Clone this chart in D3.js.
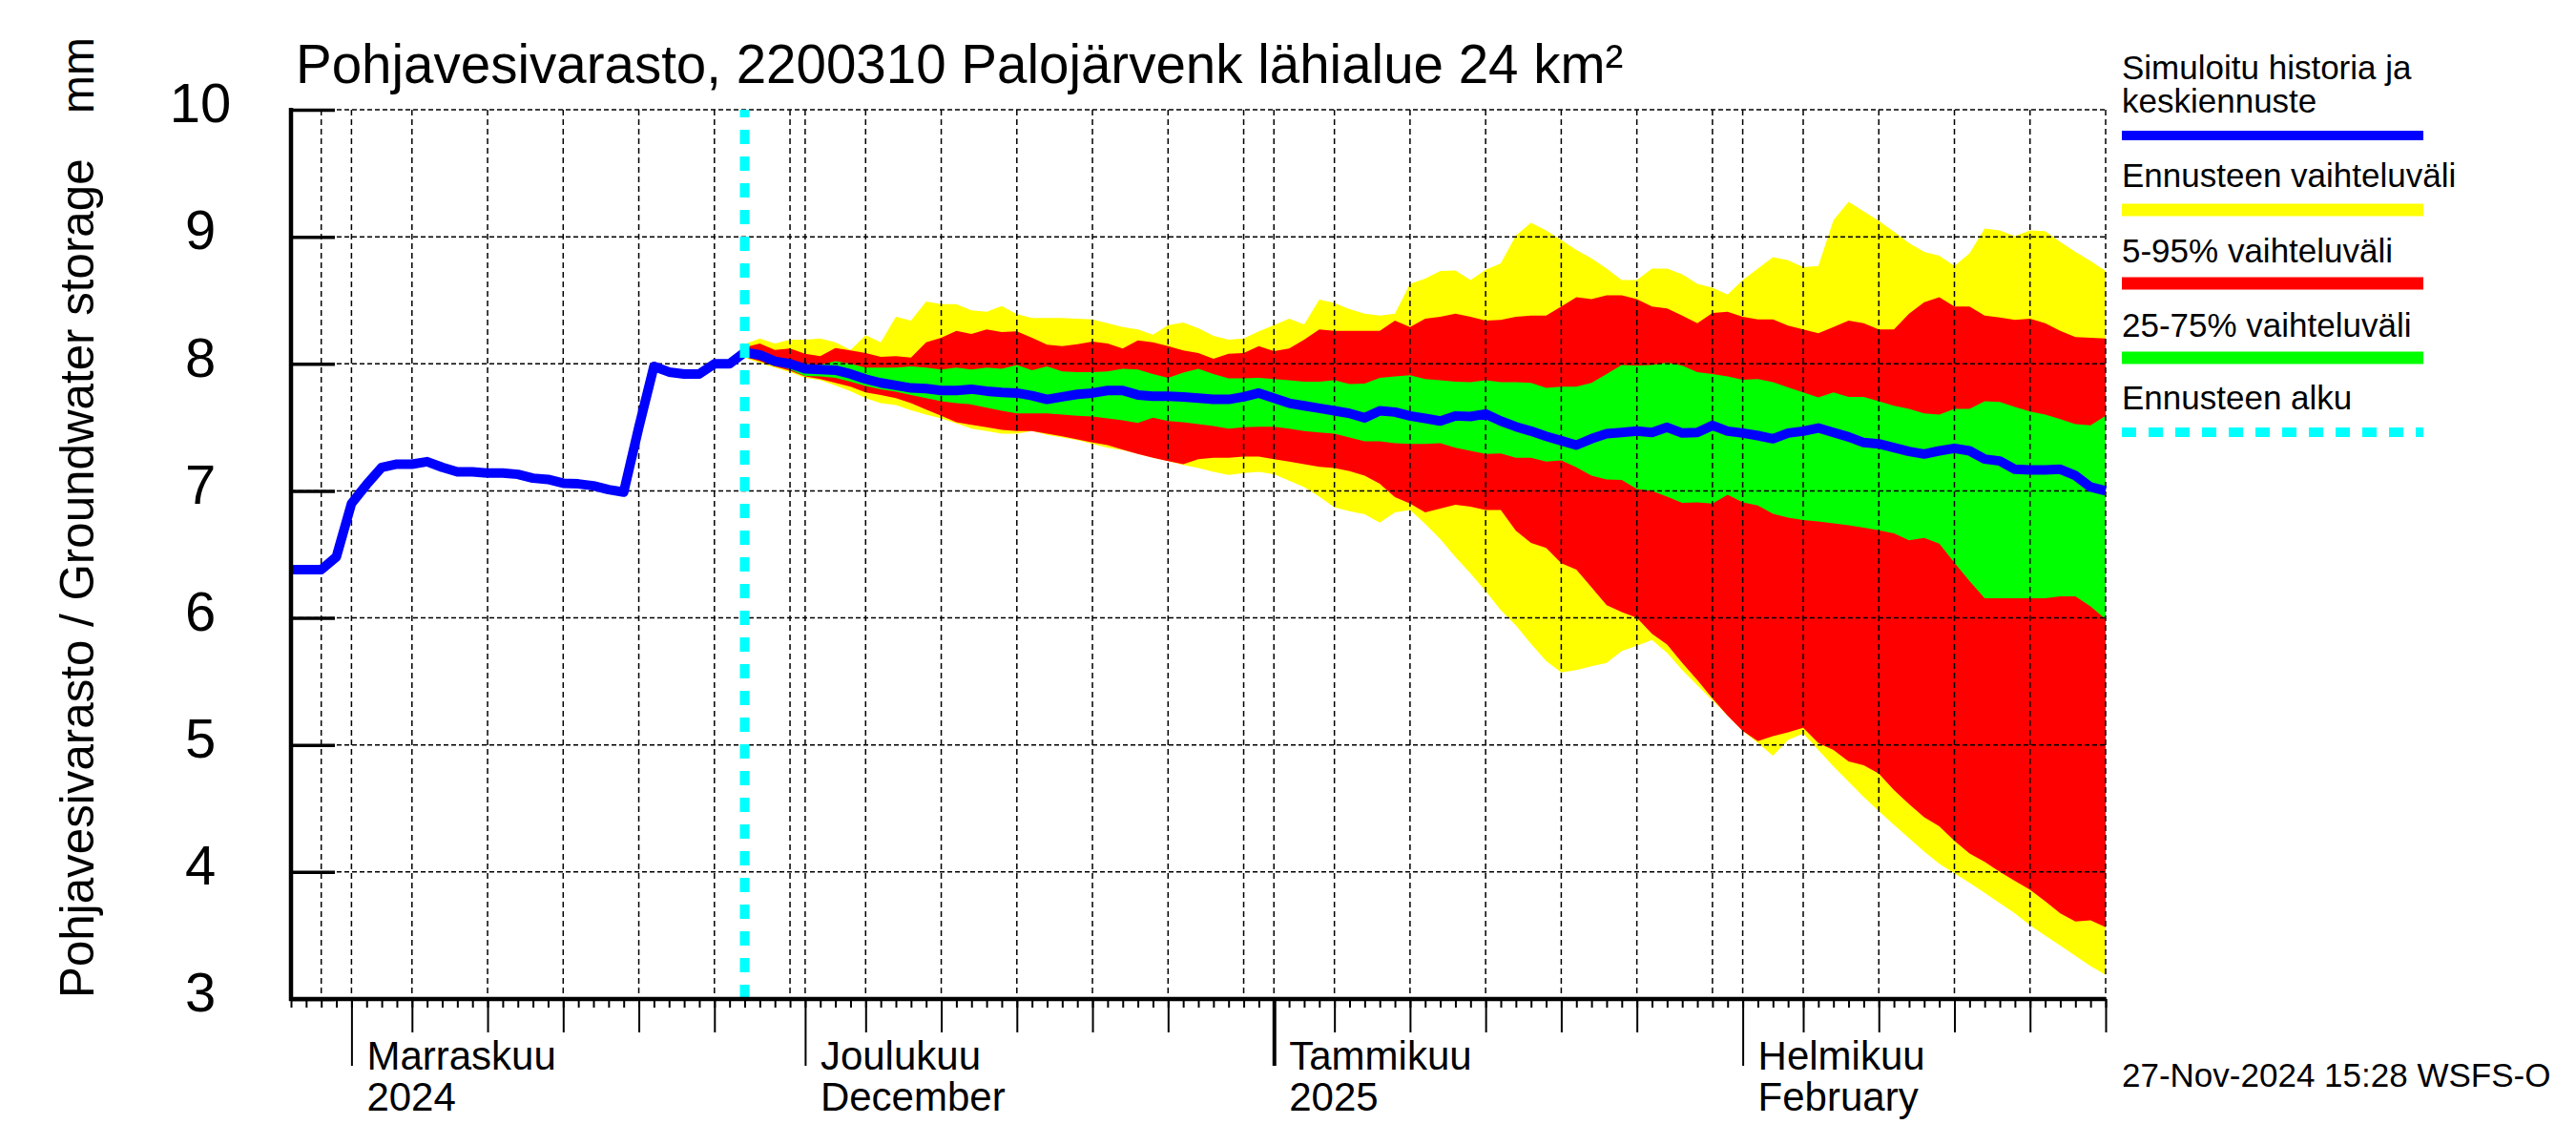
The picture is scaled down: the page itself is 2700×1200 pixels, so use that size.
<!DOCTYPE html>
<html>
<head>
<meta charset="utf-8">
<script src="https://cdn.jsdelivr.net/npm/d3@7"></script>
<style>
  body { margin: 0; background: #fff; }
  text { font-family: "Liberation Sans", Arial, Helvetica, sans-serif; fill: #000; }
</style>
</head>
<body>
<svg id="chart" width="2700" height="1200"></svg>
<script>
// time frame
const startDate = new Date(Date.UTC(2024, 9, 28));
const endDate = new Date(Date.UTC(2025, 1, 25));
const forecastStart = new Date(Date.UTC(2024, 10, 27));

// simulated history, daily from 28 Oct
const history = [
  6.38, 6.38, 6.38, 6.48, 6.90, 7.05, 7.185, 7.21, 7.21, 7.23,
  7.185, 7.15, 7.15, 7.14, 7.14, 7.13, 7.10, 7.09, 7.06, 7.055,
  7.04, 7.01, 6.99, 7.50, 7.98, 7.935, 7.92, 7.92, 8.00, 8.00,
  8.09
];

// forecast, daily from 27 Nov
const median = [
  8.09, 8.07, 8.02, 8.0, 7.96, 7.955, 7.95, 7.92, 7.88, 7.85,
  7.83, 7.81, 7.805, 7.79, 7.79, 7.80, 7.785, 7.775, 7.77, 7.75,
  7.72, 7.74, 7.76, 7.77, 7.79, 7.79, 7.755, 7.745, 7.745, 7.74,
  7.73, 7.72, 7.72, 7.74, 7.77, 7.73, 7.69, 7.67, 7.65, 7.63,
  7.61, 7.575, 7.63, 7.62, 7.59, 7.57, 7.55, 7.59, 7.585, 7.605,
  7.55, 7.505, 7.47, 7.43, 7.395, 7.36, 7.41, 7.45, 7.46, 7.47,
  7.46, 7.5, 7.455, 7.46, 7.515, 7.47, 7.455, 7.435, 7.41, 7.455,
  7.47, 7.495, 7.46, 7.425, 7.38, 7.37, 7.34, 7.31, 7.29, 7.315,
  7.335, 7.315, 7.25, 7.235, 7.17, 7.165, 7.165, 7.17, 7.12, 7.03,
  7.0
];
const rangeMax = [
  8.155, 8.2, 8.16, 8.19, 8.19, 8.2, 8.17, 8.11, 8.225, 8.17,
  8.37, 8.34, 8.49, 8.47, 8.47, 8.42, 8.41, 8.455, 8.39, 8.36,
  8.36, 8.36, 8.355, 8.35, 8.32, 8.29, 8.27, 8.23, 8.305, 8.325,
  8.28, 8.22, 8.19, 8.2, 8.255, 8.305, 8.355, 8.31, 8.505, 8.48,
  8.43, 8.395, 8.38, 8.395, 8.63, 8.67, 8.73, 8.735, 8.66, 8.74,
  8.79, 9.01, 9.11, 9.05, 8.975, 8.895, 8.83, 8.75, 8.66, 8.66,
  8.75, 8.75, 8.705, 8.63, 8.6, 8.545, 8.66, 8.75, 8.84, 8.815,
  8.76, 8.77, 9.13, 9.275, 9.2, 9.125, 9.04, 8.95, 8.88, 8.85,
  8.77, 8.87, 9.065, 9.05, 9.005, 9.05, 9.045, 8.96, 8.88, 8.81,
  8.73
];
const p95 = [
  8.13, 8.16, 8.11, 8.12, 8.08, 8.06, 8.125, 8.105, 8.085, 8.055,
  8.06, 8.05, 8.17, 8.205, 8.26, 8.235, 8.27, 8.25, 8.255, 8.205,
  8.15, 8.14, 8.155, 8.175, 8.16, 8.12, 8.185, 8.17, 8.14, 8.105,
  8.085, 8.04, 8.08, 8.085, 8.14, 8.1, 8.12, 8.19, 8.27, 8.26,
  8.26, 8.26, 8.26, 8.34, 8.29, 8.355, 8.37, 8.395, 8.37, 8.34,
  8.345, 8.37, 8.38, 8.38, 8.45, 8.525, 8.51, 8.54, 8.54, 8.51,
  8.45, 8.435, 8.38, 8.32, 8.4, 8.41, 8.37, 8.35, 8.35, 8.30,
  8.27, 8.24, 8.29, 8.34, 8.32, 8.27, 8.27, 8.395, 8.485, 8.525,
  8.45, 8.45, 8.38, 8.365, 8.345, 8.355, 8.32, 8.26, 8.21, 8.205,
  8.2
];
const p75 = [
  8.10, 8.08, 8.04, 8.01, 8.0, 7.99, 8.02, 8.0, 7.97, 7.97,
  7.97, 7.98, 7.97, 7.955, 7.97, 7.955, 7.97, 7.96, 7.99, 7.95,
  7.98, 7.94, 7.935, 7.935, 7.94, 7.96, 7.955, 7.92, 7.89, 7.93,
  7.96, 7.92, 7.885, 7.885, 7.89, 7.88, 7.87, 7.86, 7.86, 7.87,
  7.84, 7.845, 7.89, 7.9, 7.91, 7.88, 7.87, 7.86, 7.855, 7.87,
  7.855, 7.855, 7.85, 7.81, 7.82, 7.82, 7.85, 7.92, 7.99, 7.985,
  7.99, 8.01, 7.985, 7.935, 7.92, 7.9, 7.875, 7.88, 7.855, 7.815,
  7.775, 7.735, 7.775, 7.74, 7.74, 7.705, 7.67, 7.645, 7.61, 7.6,
  7.645, 7.645, 7.705, 7.7, 7.66, 7.625, 7.6, 7.565, 7.525, 7.515,
  7.59
];
const p25 = [
  8.08, 8.04, 8.0, 7.955, 7.905, 7.9, 7.89, 7.86, 7.825, 7.80,
  7.78, 7.755, 7.73, 7.705, 7.69, 7.68, 7.655, 7.63, 7.61, 7.61,
  7.61, 7.60, 7.59, 7.585, 7.57, 7.555, 7.535, 7.575, 7.55, 7.54,
  7.525, 7.51, 7.49, 7.5, 7.505, 7.505, 7.49, 7.47, 7.46, 7.45,
  7.42, 7.39, 7.39, 7.375, 7.37, 7.37, 7.375, 7.34, 7.315, 7.29,
  7.295, 7.26, 7.26, 7.23, 7.24, 7.185, 7.12, 7.09, 7.085, 7.015,
  7.0, 6.955, 6.905, 6.91, 6.9, 6.97, 6.91, 6.885, 6.82, 6.79,
  6.77, 6.76, 6.745, 6.73, 6.71, 6.69, 6.665, 6.61, 6.63, 6.585,
  6.435, 6.29, 6.155, 6.155, 6.155, 6.155, 6.155, 6.17, 6.17, 6.09,
  5.99
];
const p05 = [
  8.055, 8.02, 7.98, 7.945, 7.9, 7.88, 7.85, 7.82, 7.775, 7.755,
  7.73, 7.69, 7.64, 7.59, 7.54, 7.52, 7.50, 7.48, 7.47, 7.47,
  7.45, 7.43, 7.405, 7.38, 7.36, 7.325, 7.29, 7.26, 7.235, 7.21,
  7.25, 7.26, 7.26, 7.27, 7.27, 7.25, 7.23, 7.21, 7.19, 7.18,
  7.155, 7.12, 7.055, 6.95, 6.9, 6.83, 6.86, 6.89, 6.875, 6.85,
  6.85, 6.685, 6.59, 6.55, 6.43, 6.38, 6.24, 6.1, 6.045, 6.0,
  5.875, 5.79, 5.645, 5.51, 5.365, 5.23, 5.11, 5.03, 5.07, 5.10,
  5.135, 5.015, 4.96, 4.87, 4.84, 4.775, 4.645, 4.535, 4.43, 4.36,
  4.245, 4.145, 4.08, 4.0, 3.93, 3.86, 3.77, 3.675, 3.61, 3.62,
  3.565
];
const rangeMin = [
  8.05, 8.005, 7.97, 7.935, 7.89, 7.87, 7.83, 7.785, 7.73, 7.69,
  7.675, 7.635, 7.60, 7.57, 7.53, 7.49, 7.47, 7.45, 7.45, 7.47,
  7.44, 7.42, 7.40, 7.37, 7.34, 7.32, 7.29, 7.26, 7.235, 7.205,
  7.18, 7.15, 7.125, 7.14, 7.15, 7.13, 7.08, 7.03, 6.955, 6.87,
  6.84, 6.815, 6.75, 6.83, 6.85, 6.74, 6.62, 6.48, 6.35, 6.21,
  6.06, 5.94, 5.795, 5.66, 5.57, 5.59, 5.62, 5.645, 5.74, 5.78,
  5.825, 5.725, 5.59, 5.47, 5.35, 5.23, 5.11, 5.015, 4.915, 5.04,
  5.09, 4.96, 4.83, 4.71, 4.59, 4.48, 4.37, 4.265, 4.16, 4.065,
  3.99, 3.915, 3.835, 3.755, 3.675, 3.58, 3.5, 3.42, 3.34, 3.26,
  3.19
];

const yTicks = [3, 4, 5, 6, 7, 8, 9, 10];
const monthLabels = [
  { date: new Date(Date.UTC(2024, 10, 1)), top: "Marraskuu", bottom: "2024" },
  { date: new Date(Date.UTC(2024, 11, 1)), top: "Joulukuu", bottom: "December" },
  { date: new Date(Date.UTC(2025, 0, 1)), top: "Tammikuu", bottom: "2025" },
  { date: new Date(Date.UTC(2025, 1, 1)), top: "Helmikuu", bottom: "February" }
];
const legendItems = [
  { lines: ["Simuloitu historia ja", "keskiennuste"], color: "#0000ff", width: 10 },
  { lines: ["Ennusteen vaihteluväli"], color: "#ffff00", width: 13 },
  { lines: ["5-95% vaihteluväli"], color: "#ff0000", width: 13 },
  { lines: ["25-75% vaihteluväli"], color: "#00ff00", width: 13 },
  { lines: ["Ennusteen alku"], color: "#00ffff", width: 10, dash: "15,13" }
];
const titleText = "Pohjavesivarasto, 2200310 Palojärvenk lähialue 24 km²";
const yLabel = "Pohjavesivarasto / Groundwater storage";
const stamp = "27-Nov-2024 15:28 WSFS-O";

const svg = d3.select("#chart");
const x = d3.scaleUtc().domain([startDate, endDate]).range([305, 2207]);
const y = d3.scaleLinear().domain([3, 10]).range([1047, 115]);

const histDates = history.map((d, i) => d3.utcDay.offset(startDate, i));
const fcDates = median.map((d, i) => d3.utcDay.offset(forecastStart, i));

// forecast bands
function band(lo, hi, color) {
  const area = d3.area()
    .x((d, i) => x(fcDates[i]))
    .y0((d, i) => y(lo[i]))
    .y1((d, i) => y(hi[i]));
  svg.append("path").datum(lo).attr("d", area).attr("fill", color);
}
band(rangeMin, rangeMax, "#ffff00");
band(p05, p95, "#ff0000");
band(p25, p75, "#00ff00");

// grid
const allDays = d3.utcDay.range(startDate, d3.utcDay.offset(endDate, 1));
const gridDays = allDays.filter(d => [1, 5, 10, 15, 20, 25, 30].includes(d.getUTCDate()));
svg.append("g").selectAll("line").data(gridDays).join("line")
  .attr("x1", d => x(d)).attr("x2", d => x(d))
  .attr("y1", y(10)).attr("y2", y(3))
  .attr("stroke", "#000").attr("stroke-width", 1.5).attr("stroke-dasharray", "6,4");
svg.append("g").selectAll("line").data(yTicks.filter(v => v > 3)).join("line")
  .attr("x1", x(startDate)).attr("x2", x(endDate))
  .attr("y1", d => y(d)).attr("y2", d => y(d))
  .attr("stroke", "#000").attr("stroke-width", 1.5).attr("stroke-dasharray", "5,3");

// lines
const line = d3.line().x(d => x(d[0])).y(d => y(d[1]));
svg.append("path").datum(histDates.map((d, i) => [d, history[i]]))
  .attr("d", line).attr("fill", "none").attr("stroke", "#0000ff")
  .attr("stroke-width", 10).attr("stroke-linejoin", "round");
svg.append("path").datum(fcDates.map((d, i) => [d, median[i]]))
  .attr("d", line).attr("fill", "none").attr("stroke", "#0000ff")
  .attr("stroke-width", 10).attr("stroke-linejoin", "round");

// forecast start
svg.append("line")
  .attr("x1", x(forecastStart)).attr("x2", x(forecastStart))
  .attr("y1", y(3)).attr("y2", y(10))
  .attr("stroke", "#00ffff").attr("stroke-width", 10).attr("stroke-dasharray", "15,13");

// bottom ticks
function tickRow(values, size, width) {
  svg.append("g")
    .attr("transform", `translate(0,${y(3)})`)
    .call(d3.axisBottom(x).tickValues(values).tickSize(size).tickFormat(""))
    .call(g => g.select(".domain").remove())
    .call(g => g.selectAll(".tick line").attr("stroke-width", width));
}
tickRow(allDays, 9, 2);
tickRow(allDays.filter(d => [5, 10, 15, 20, 25].includes(d.getUTCDate())), 35, 2);
tickRow(allDays.filter(d => d.getUTCDate() === 1 && d.getUTCMonth() !== 0), 70, 2);
tickRow(allDays.filter(d => d.getUTCDate() === 1 && d.getUTCMonth() === 0), 70, 4);

// y axis
const gy = svg.append("g")
  .attr("transform", `translate(${x(startDate)},0)`)
  .call(d3.axisLeft(y).tickValues(yTicks).tickSize(-46).tickPadding(95).tickFormat(d3.format("d")))
  .attr("font-family", null).attr("font-size", 58);
gy.select(".domain").remove();
gy.selectAll(".tick line").attr("stroke-width", 3.5);
gy.selectAll(".tick text").attr("text-anchor", "middle").attr("dy", "0.22em");

// axis lines
svg.append("line").attr("x1", x(startDate)).attr("x2", x(startDate))
  .attr("y1", y(10) - 2).attr("y2", y(3) + 2)
  .attr("stroke", "#000").attr("stroke-width", 4.5);
svg.append("line").attr("x1", x(startDate) - 2).attr("x2", x(endDate))
  .attr("y1", y(3)).attr("y2", y(3))
  .attr("stroke", "#000").attr("stroke-width", 4.5);

// month labels
const ml = svg.append("g").selectAll("g").data(monthLabels).join("g")
  .attr("transform", d => `translate(${x(d.date) + 16},0)`);
ml.append("text").attr("y", 1121).attr("font-size", 42).text(d => d.top);
ml.append("text").attr("y", 1164).attr("font-size", 42).text(d => d.bottom);

// title and axis label
svg.append("text").attr("x", 310).attr("y", 87).attr("font-size", 56.5).text(titleText);
svg.append("text").attr("transform", "translate(98,1046) rotate(-90)")
  .attr("font-size", 49.3).text(yLabel);
svg.append("text").attr("transform", "translate(98,119) rotate(-90)")
  .attr("font-size", 48).text("mm");

// legend
const legendX = 2224;
const legendBaselines = [[83, 118], [196], [275], [353], [429]];
const legendBars = [142, 220, 297, 375, 453];
legendItems.forEach((item, i) => {
  item.lines.forEach((t, j) => {
    svg.append("text").attr("x", legendX).attr("y", legendBaselines[i][j])
      .attr("font-size", 35).text(t);
  });
  svg.append("line").attr("x1", legendX).attr("x2", 2540)
    .attr("y1", legendBars[i]).attr("y2", legendBars[i])
    .attr("stroke", item.color).attr("stroke-width", item.width)
    .attr("stroke-dasharray", item.dash || null);
});

svg.append("text").attr("x", 2224).attr("y", 1139).attr("font-size", 35).text(stamp);
</script>
</body>
</html>
